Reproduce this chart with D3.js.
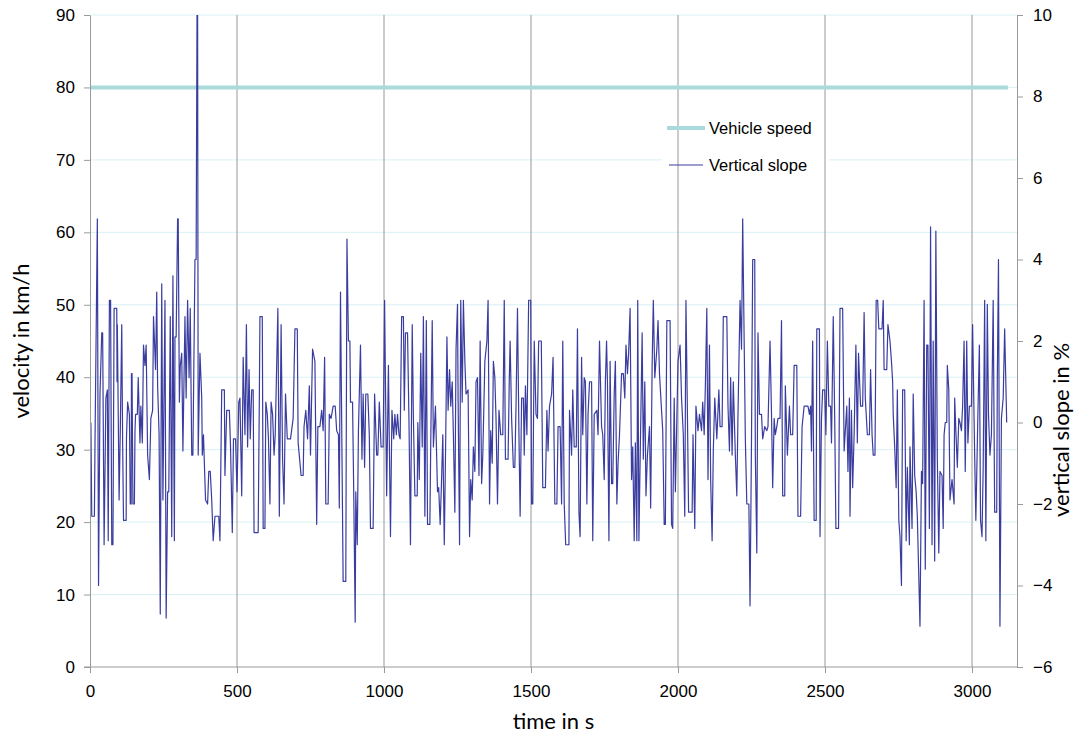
<!DOCTYPE html>
<html lang="en">
<head>
<meta charset="utf-8">
<script src="https://cdn.jsdelivr.net/npm/d3@7"></script>
<style>
  body { margin: 0; background: #fff; }
  .tick text { font-family: "Liberation Sans", Arial, sans-serif; font-size: 17px; fill: #000; }
  .axis path, .axis line { stroke: #9a9a9a; }
  .title { font-family: Lato, "Noto Sans", sans-serif; font-size: 22px; fill: #000; }
  .legend text { font-family: "Liberation Sans", Arial, sans-serif; font-size: 16.5px; fill: #000; }
</style>
</head>
<body>
<script>
// ticks
var timeTicks = [0, 500, 1000, 1500, 2000, 2500, 3000];
var velTicks = [0, 10, 20, 30, 40, 50, 60, 70, 80, 90];
var slopeTicks = [-6, -4, -2, 0, 2, 4, 6, 8, 10];

// vehicle speed (constant)
var speedTime = [0, 3122];
var speedValue = [80, 80];

// vertical slope, [time s, slope %]
var slopePoints = [
 [3,0.0],[6,-2.3],[15,-2.3],[17,-0.5],[25,5.0],[29,-4.0],[34,0.7],[40,2.2],[43,2.2],[48,-3.0],
 [54,0.6],[59,0.8],[62,-2.9],[66,3.0],[70,3.0],[74,-3.0],[78,-3.0],[82,2.8],[91,2.8],[92,1.0],
 [93,2.4],[99,-1.9],[103,-0.2],[108,2.4],[111,-0.5],[114,-2.4],[123,-2.4],[124,-0.4],[128,0.5],[134,0.2],
 [137,-2.0],[140,-2.0],[141,1.2],[143,1.2],[146,-2.0],[151,-2.0],[153,-0.2],[155,0.2],[161,0.2],[164,1.1],
 [170,-0.5],[173,0.4],[178,-0.5],[182,1.9],[187,1.4],[191,1.9],[196,-0.8],[202,-1.4],[207,0.1],[213,0.3],
 [216,2.6],[223,1.3],[227,3.2],[230,0.9],[235,-0.3],[239,-4.7],[244,3.4],[248,-1.9],[255,3.0],[259,-4.8],
 [264,-1.7],[268,-1.7],[273,2.6],[278,-2.8],[282,3.6],[287,-2.9],[289,2.1],[293,2.1],[298,5.0],[300,5.0],
 [304,0.5],[307,1.4],[312,1.7],[316,-0.7],[323,2.6],[327,0.6],[332,3.0],[337,1.1],[341,2.8],[346,-0.8],
 [350,-0.8],[357,4.0],[361,4.0],[364,10],[366,10],[368,-0.8],[374,1.7],[380,0.6],[382,-0.8],[386,-0.3],
 [389,-1.0],[393,-1.9],[400,-2.0],[404,-1.2],[409,-1.2],[414,-1.9],[419,-2.9],[425,-2.3],[438,-2.3],[442,-2.9],
 [448,0.8],[457,0.8],[459,-1.3],[465,0.3],[474,0.3],[478,-0.6],[484,-2.7],[488,-0.4],[495,-0.4],[500,-1.7],
 [506,0.5],[510,0.6],[516,-1.8],[521,1.6],[527,-0.3],[532,2.4],[536,-0.6],[541,1.3],[545,-0.4],[550,0.8],
 [555,0.8],[558,-2.7],[572,-2.7],[576,0.6],[578,2.6],[586,2.6],[589,-2.6],[595,-2.6],[598,0.5],[603,0.2],
 [607,-0.4],[612,-2.0],[616,0.5],[621,0.2],[626,-0.8],[630,-0.3],[639,2.8],[644,-2.3],[650,2.4],[655,-0.9],
 [660,-2.0],[665,0.7],[671,-0.4],[682,-0.4],[691,0.1],[697,2.3],[705,2.3],[708,-0.5],[718,-1.3],[725,-1.3],
 [728,-0.1],[734,0.3],[740,-0.4],[746,0.9],[750,-0.8],[757,1.8],[765,1.5],[771,-2.5],[775,-0.1],[782,-0.1],
 [788,0.3],[793,-0.2],[798,1.6],[802,-2.0],[810,-2.0],[814,0.2],[820,0.1],[827,0.4],[834,0.4],[839,-0.2],
 [845,-0.3],[848,-2.1],[852,3.2],[861,-3.9],[870,-3.9],[874,4.5],[879,2.0],[884,2.0],[886,0.5],[893,0.5],
 [897,-1.7],[902,-4.9],[904,-1.7],[909,-3.0],[913,-0.2],[920,1.9],[925,-0.9],[929,0.7],[934,-1.1],[938,0.7],
 [945,0.7],[950,-0.3],[954,-2.6],[963,-2.6],[968,0.7],[975,-0.8],[979,-0.8],[984,0.5],[990,-0.6],[997,-0.6],
 [1002,3.0],[1009,-1.8],[1015,1.4],[1022,-2.8],[1027,0.3],[1033,-0.4],[1037,0.2],[1042,-0.3],[1046,0.2],[1051,-0.3],
 [1055,-0.4],[1060,2.6],[1066,2.6],[1069,0.3],[1073,2.2],[1080,2.2],[1085,0.0],[1090,-3.0],[1096,2.4],[1100,0.1],
 [1105,-1.8],[1113,-1.8],[1115,0.0],[1120,-1.4],[1125,1.7],[1130,-0.6],[1134,2.6],[1139,-2.3],[1144,2.5],[1148,-2.5],
 [1156,-2.5],[1159,-0.5],[1164,2.5],[1168,-0.6],[1175,0.4],[1182,-1.7],[1186,-1.6],[1191,-2.5],[1195,-1.6],[1200,-0.3],
 [1205,-3.0],[1209,-0.9],[1214,2.1],[1218,0.3],[1223,1.3],[1227,0.4],[1232,1.0],[1236,-0.3],[1241,-2.2],[1245,1.8],
 [1250,2.9],[1252,0.6],[1257,-3.0],[1261,3.0],[1266,0.5],[1270,3.0],[1275,1.5],[1279,0.7],[1286,0.8],[1291,-2.8],
 [1295,-1.4],[1300,-1.9],[1304,-0.6],[1309,-1.2],[1313,1.0],[1318,1.1],[1323,-1.3],[1327,2.0],[1332,-1.5],[1336,-0.8],
 [1343,1.5],[1350,2.0],[1354,3.0],[1359,-2.0],[1363,-0.2],[1368,-1.0],[1372,1.5],[1377,1.1],[1381,0.1],[1386,-2.0],
 [1391,0.3],[1397,-0.3],[1404,-0.3],[1409,3.0],[1413,-0.9],[1422,-0.9],[1426,1.0],[1429,2.0],[1434,0.1],[1440,-1.1],
 [1445,-1.1],[1449,0.4],[1454,2.8],[1459,-0.3],[1463,-2.3],[1468,0.6],[1474,0.6],[1477,-0.8],[1481,0.9],[1486,-0.3],
 [1492,3.0],[1499,3.0],[1502,-2.0],[1506,-2.0],[1511,2.0],[1517,0.2],[1522,0.1],[1526,2.0],[1535,2.0],[1540,-1.6],
 [1549,-1.6],[1554,0.3],[1558,-0.7],[1563,0.4],[1570,0.7],[1575,1.6],[1581,-2.0],[1588,-2.0],[1592,-0.1],[1599,-0.1],
 [1604,-2.0],[1608,2.0],[1613,-2.0],[1618,-3.0],[1629,-3.0],[1631,0.3],[1638,-0.8],[1642,0.8],[1647,-0.6],[1654,-0.6],
 [1658,2.3],[1663,-2.2],[1667,-2.8],[1672,1.6],[1676,-0.3],[1681,1.1],[1685,1.0],[1690,-2.0],[1694,0.2],[1699,1.0],
 [1706,1.0],[1710,-2.9],[1715,0.2],[1724,0.3],[1728,-0.3],[1733,2.0],[1740,-0.1],[1744,-0.3],[1749,-1.4],[1753,1.0],
 [1757,2.0],[1760,1.0],[1765,-2.9],[1769,1.5],[1774,-1.5],[1778,-1.5],[1783,0.7],[1787,1.5],[1792,-2.0],[1796,-1.0],
 [1801,-0.3],[1808,1.2],[1814,1.2],[1819,0.6],[1823,1.9],[1828,1.2],[1832,1.7],[1837,2.8],[1842,-1.4],[1846,-0.6],
 [1851,-2.9],[1855,-0.5],[1860,-2.9],[1863,3.0],[1867,-2.9],[1871,-1.0],[1878,2.2],[1882,-0.9],[1887,1.0],[1891,-1.8],
 [1896,-0.8],[1903,-0.1],[1907,-2.1],[1912,1.4],[1916,3.0],[1921,1.1],[1928,1.8],[1932,2.5],[1937,1.2],[1944,0.3],
 [1948,-0.2],[1953,-2.5],[1957,-2.5],[1962,2.5],[1973,2.5],[1978,-2.5],[1982,-2.6],[1987,0.6],[1991,-1.7],[1996,0.1],
 [2000,1.5],[2007,1.9],[2012,0.6],[2018,-0.3],[2023,-2.3],[2027,3.0],[2032,0.2],[2036,-2.2],[2048,-2.2],[2051,-0.3],
 [2057,-2.6],[2061,0.4],[2068,-0.2],[2073,0.2],[2080,-0.2],[2084,0.5],[2089,-0.3],[2093,0.9],[2098,2.8],[2102,-1.4],
 [2107,1.9],[2111,-1.4],[2116,-2.9],[2120,-0.7],[2125,0.6],[2132,-0.4],[2139,0.8],[2143,-0.1],[2150,-0.1],[2154,2.6],
 [2166,2.6],[2170,0.4],[2175,-0.7],[2179,1.1],[2184,-0.8],[2188,1.0],[2195,-0.8],[2200,-1.8],[2204,0.2],[2211,3.0],
 [2216,1.8],[2220,5.0],[2225,2.0],[2229,-0.4],[2234,-2.0],[2241,-2.0],[2245,-4.5],[2250,-0.4],[2254,4.0],[2261,4.0],
 [2263,-0.8],[2268,-3.2],[2272,2.2],[2277,0.2],[2284,0.2],[2288,-0.4],[2295,-0.1],[2302,-0.2],[2306,-0.1],[2313,2.0],
 [2318,0.2],[2322,-1.6],[2327,0.1],[2331,-0.3],[2336,-0.1],[2340,0.1],[2347,0.1],[2352,2.5],[2356,-1.8],[2363,-1.8],
 [2365,0.9],[2372,-0.8],[2379,0.4],[2383,-0.3],[2390,-0.3],[2395,1.4],[2404,1.4],[2408,-2.3],[2417,-2.3],[2422,-0.1],
 [2429,0.4],[2442,0.4],[2447,0.2],[2451,0.4],[2454,-0.7],[2458,2.0],[2463,-2.4],[2470,-2.4],[2472,2.3],[2481,2.3],
 [2483,-2.8],[2488,0.1],[2492,0.8],[2499,0.8],[2503,-0.3],[2508,2.0],[2513,0.4],[2519,0.4],[2522,-0.5],[2528,2.6],
 [2533,0.1],[2537,-2.6],[2546,-2.6],[2551,2.8],[2560,2.8],[2565,-0.7],[2574,0.4],[2578,-1.2],[2583,0.6],[2585,-2.3],
 [2590,0.3],[2594,-1.6],[2599,-0.3],[2605,1.9],[2610,-0.5],[2614,1.7],[2621,0.4],[2628,0.4],[2633,2.7],[2637,0.6],
 [2644,-0.3],[2651,-0.3],[2655,1.3],[2660,-0.3],[2664,-0.8],[2670,-0.8],[2674,3.0],[2679,3.0],[2683,2.3],[2694,2.3],
 [2698,3.0],[2701,1.3],[2710,1.3],[2714,2.4],[2721,2.0],[2726,1.5],[2730,1.0],[2732,0.2],[2737,-0.6],[2742,-1.6],
 [2746,0.8],[2751,-2.4],[2755,-2.8],[2760,-4.0],[2764,0.8],[2771,0.8],[2776,-2.9],[2780,-1.1],[2787,-3.0],[2789,-0.6],
 [2796,-2.6],[2800,0.7],[2805,-1.3],[2810,-1.7],[2814,-2.3],[2823,-5.0],[2828,-1.2],[2832,-1.5],[2837,3.0],[2841,-3.6],
 [2846,1.9],[2850,1.9],[2855,-2.6],[2859,4.8],[2864,-3.0],[2868,2.0],[2873,-3.4],[2877,4.7],[2882,-0.9],[2887,-3.2],
 [2891,-1.2],[2898,-1.3],[2902,-2.6],[2905,-0.3],[2909,0.0],[2914,0.0],[2916,1.4],[2921,0.8],[2925,-1.9],[2932,-1.4],
 [2939,-2.0],[2941,0.6],[2945,-0.2],[2950,-1.1],[2955,0.1],[2959,0.0],[2964,-0.2],[2968,0.4],[2973,2.0],[2977,-1.2],
 [2982,2.0],[2986,-0.5],[2991,0.4],[2998,0.4],[3002,2.4],[3009,-0.8],[3013,-2.4],[3020,0.2],[3025,1.9],[3029,-2.4],
 [3034,-2.8],[3038,-1.1],[3043,3.0],[3047,-2.9],[3052,2.9],[3056,0.2],[3061,-0.8],[3066,-0.3],[3072,3.0],[3077,-2.2],
 [3084,-2.2],[3086,1.0],[3090,4.0],[3095,-5.0],[3100,0.1],[3106,0.6],[3111,2.3],[3118,0.0]
];

var w = 1079, h = 742;
var plotLeft = 90, plotRight = 1017, plotTop = 15, plotBottom = 667;

var svg = d3.select("body").append("svg")
    .attr("width", w)
    .attr("height", h);

var x = d3.scaleLinear().domain([0, 3153]).range([plotLeft, plotRight]);
var yVel = d3.scaleLinear().domain([0, 90]).range([plotBottom, plotTop]);
var ySlope = d3.scaleLinear().domain([-6, 10]).range([plotBottom, plotTop]);

// horizontal grid (light cyan)
svg.append("g").selectAll("line")
    .data(velTicks.filter(function(d) { return d > 0; }))
    .enter().append("line")
    .attr("x1", plotLeft).attr("x2", plotRight)
    .attr("y1", function(d) { return yVel(d); })
    .attr("y2", function(d) { return yVel(d); })
    .attr("stroke", "#d8f1f5")
    .attr("stroke-width", 1);

// white box behind legend
svg.append("rect")
    .attr("x", 662).attr("y", 110)
    .attr("width", 167).attr("height", 72)
    .attr("fill", "#fff");

// vertical grid (gray)
svg.append("g").selectAll("line")
    .data(timeTicks.filter(function(d) { return d > 0; }))
    .enter().append("line")
    .attr("x1", function(d) { return x(d); })
    .attr("x2", function(d) { return x(d); })
    .attr("y1", plotTop).attr("y2", plotBottom)
    .attr("stroke", "#a9a9a9")
    .attr("stroke-width", 1.2);

svg.append("clipPath").attr("id", "plot")
    .append("rect")
    .attr("x", plotLeft).attr("y", plotTop)
    .attr("width", plotRight - plotLeft).attr("height", plotBottom - plotTop);

// vehicle speed
var speedLine = d3.line()
    .x(function(d, i) { return x(speedTime[i]); })
    .y(function(d) { return yVel(d); });
svg.append("path")
    .datum(speedValue)
    .attr("d", speedLine)
    .attr("fill", "none")
    .attr("stroke", "#aadadc")
    .attr("stroke-width", 4);

// vertical slope
var slopeLine = d3.line()
    .x(function(d) { return x(d[0]); })
    .y(function(d) { return ySlope(d[1]); });
svg.append("path")
    .datum(slopePoints)
    .attr("clip-path", "url(#plot)")
    .attr("d", slopeLine)
    .attr("fill", "none")
    .attr("stroke", "#3a3d9f")
    .attr("stroke-width", 1.2)
    .attr("stroke-linejoin", "round");

// axes
svg.append("g").attr("class", "axis")
    .attr("transform", "translate(" + plotLeft + ",0)")
    .call(d3.axisLeft(yVel).tickValues(velTicks).tickSize(6).tickPadding(9).tickSizeOuter(0));

svg.append("g").attr("class", "axis")
    .attr("transform", "translate(" + plotRight + ",0)")
    .call(d3.axisRight(ySlope).tickValues(slopeTicks).tickSize(6).tickPadding(10).tickSizeOuter(0));

var xAxis = svg.append("g").attr("class", "axis")
    .attr("transform", "translate(0," + plotBottom + ")")
    .call(d3.axisBottom(x).tickValues(timeTicks).tickFormat(d3.format("d"))
        .tickSize(6).tickPadding(12).tickSizeOuter(0));
xAxis.select(".domain").attr("d", "M" + (plotLeft - 6) + ",0H" + plotRight);

// axis titles
svg.append("text").attr("class", "title")
    .attr("text-anchor", "middle")
    .attr("transform", "translate(29," + ((plotTop + plotBottom) / 2) + ") rotate(-90)")
    .text("velocity in km/h");

svg.append("text").attr("class", "title")
    .attr("text-anchor", "middle")
    .attr("x", (plotLeft + plotRight) / 2).attr("y", 729)
    .text("time in s");

svg.append("text").attr("class", "title")
    .attr("text-anchor", "middle")
    .attr("transform", "translate(1069,430) rotate(-90)")
    .text("vertical slope in %");

// legend
var legend = svg.append("g").attr("class", "legend");
legend.append("line")
    .attr("x1", 667).attr("x2", 705).attr("y1", 128).attr("y2", 128)
    .attr("stroke", "#aadadc").attr("stroke-width", 4);
legend.append("text").attr("x", 709).attr("y", 134).text("Vehicle speed");
legend.append("line")
    .attr("x1", 669).attr("x2", 703).attr("y1", 165).attr("y2", 165)
    .attr("stroke", "#3a3d9f").attr("stroke-width", 1);
legend.append("text").attr("x", 709).attr("y", 171).text("Vertical slope");
</script>
</body>
</html>
